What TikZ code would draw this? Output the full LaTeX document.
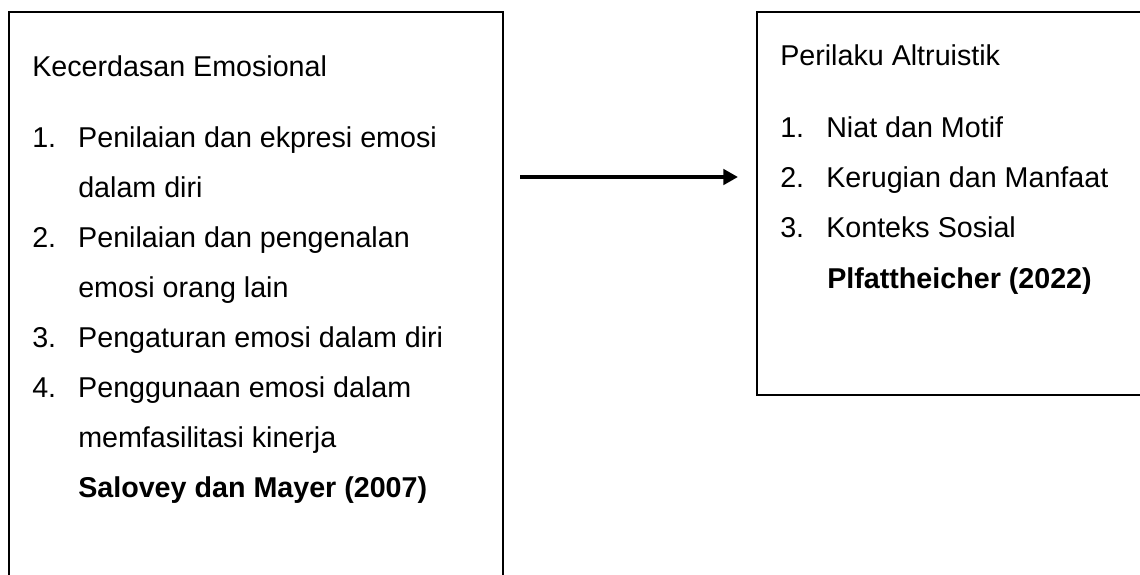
\documentclass[tikz,border=0pt]{standalone}
\usepackage{fontspec}
\setmainfont{Liberation Sans}
\usetikzlibrary{arrows.meta}
\newcommand{\numlab}[1]{\makebox[34.5pt][l]{#1}}
\begin{document}
\begin{tikzpicture}[x=0.75pt,y=-0.75pt,
  box/.style={draw=black,line width=2.1pt},
  txt/.style={anchor=base west,inner sep=0pt,font=\fontsize{21.5pt}{25pt}\selectfont},
  btxt/.style={txt,font=\fontsize{21.5pt}{25pt}\selectfont\bfseries},
  conn/.style={line width=3.7pt,-{Triangle[length=11pt,width=11.5pt]}}]
\useasboundingbox (0,0) rectangle (1140,575);
\clip (0,0) rectangle (1140,575);
% boxes
\draw[box] (9,12) rectangle (503,620);
\draw[box] (757,12) rectangle (1160,395);
% left texts
\node[txt] (l0) at (32,76) {Kecerdasan Emosional};
\node[txt] (l1) at (32,147) {\numlab{1.}Penilaian dan ekpresi emosi};
\node[txt] (l1b) at (78,197) {dalam diri};
\node[txt] (l2) at (32,247) {\numlab{2.}Penilaian dan pengenalan};
\node[txt] (l2b) at (78,297) {emosi orang lain};
\node[txt] (l3) at (32,347) {\numlab{3.}Pengaturan emosi dalam diri};
\node[txt] (l4) at (32,397) {\numlab{4.}Penggunaan emosi dalam};
\node[txt] (l4b) at (78,447) {memfasilitasi kinerja};
\node[btxt] (lsrc) at (78,497) {Salovey dan Mayer (2007)};
% right texts
\node[txt] (r0) at (780,65) {Perilaku Altruistik};
\node[txt] (r1) at (780,137) {\numlab{1.}Niat dan Motif};
\node[txt] (r2) at (780,187) {\numlab{2.}Kerugian dan Manfaat};
\node[txt] (r3) at (780,237) {\numlab{3.}Konteks Sosial};
\node[btxt] (rsrc) at (827,288) {Plfattheicher (2022)};
% arrow
\coordinate (a1) at (520,177);
\coordinate (a2) at (738,177);
\draw[conn] (a1) -- (a2);
\end{tikzpicture}
\end{document}
